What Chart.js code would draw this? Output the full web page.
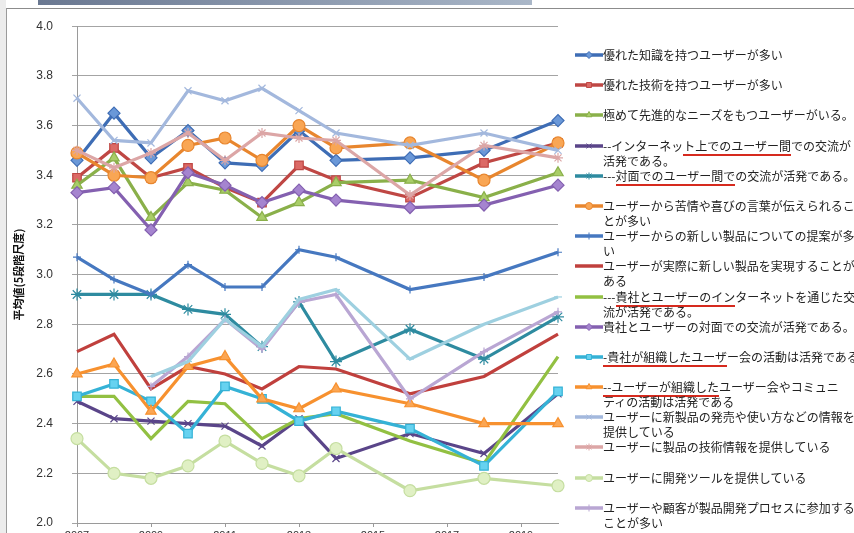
<!DOCTYPE html>
<html>
<head>
<meta charset="utf-8">
<script src="https://cdn.jsdelivr.net/npm/chart.js@4"></script>
<style>
  html, body { margin: 0; padding: 0; background: #fff; overflow: hidden; }
  #page { position: relative; width: 854px; height: 533px; overflow: hidden; }
  #sidebar { position: absolute; left: 0; top: 0; width: 6px; height: 533px; background: #ececec; }
  #topbar { position: absolute; left: 38px; top: 0; width: 494px; height: 5px;
            background: linear-gradient(to right, #6a7891, #aab7c8); }
  #frame { position: absolute; left: 6px; top: 8px; width: 860px; height: 540px;
           border-top: 1px solid #8c8c8c; border-left: 1px solid #9a9a9a; }
  #wrap { position: absolute; left: 0; top: 0; width: 854px; height: 560px; }
  #legend { position: absolute; left: 575px; top: 47px; font-family: "Noto Sans CJK JP", sans-serif;
            font-size: 12px; color: #222; }
  .item { height: 30.2px; display: flex; align-items: flex-start; white-space: pre; }
  .item canvas { flex: none; }
  .item .txt { line-height: 15px; }
  .mark { border-bottom: 2px solid #d62a1e; }
</style>
</head>
<body>
<div id="page">
  <div id="sidebar"></div>
  <div id="topbar"></div>
  <div id="frame"></div>
  <div id="wrap"><canvas id="chart"></canvas></div>
  <div id="legend"></div>
</div>
<script>
// survey years (x) and the odd-year ticks shown under the axis
const years = [2007, 2008, 2009, 2010, 2011, 2012, 2013, 2014, 2016, 2018, 2020];
const xTicks = [2007, 2009, 2011, 2013, 2015, 2017, 2019];

const labels = [
  '優れた知識を持つユーザーが多い',
  '優れた技術を持つユーザーが多い',
  '極めて先進的なニーズをもつユーザーがいる。',
  '--インターネット上でのユーザー間での交流が\n活発である。',
  '---対面でのユーザー間での交流が活発である。',
  'ユーザーから苦情や喜びの言葉が伝えられるこ\nとが多い',
  'ユーザーからの新しい製品についての提案が多\nい',
  'ユーザーが実際に新しい製品を実現することが\nある',
  '---貴社とユーザーのインターネットを通じた交\n流が活発である。',
  '貴社とユーザーの対面での交流が活発である。',
  '-貴社が組織したユーザー会の活動は活発である',
  '--ユーザーが組織したユーザー会やコミュニ\nティの活動は活発である',
  'ユーザーに新製品の発売や使い方などの情報を\n提供している',
  'ユーザーに製品の技術情報を提供している',
  'ユーザーに開発ツールを提供している',
  'ユーザーや顧客が製品開発プロセスに参加する\nことが多い',
  ''
];

// parts of the legend text underlined in red in the original
const underlines = { 3: 'ト上でのユーザー間', 4: '対面でのユーザー間で', 8: '貴社とユーザーのイン',
                     10: '-貴社が組織したユーザ', 11: '--ユーザーが組織した' };

const s1  = [3.46, 3.65, 3.47, 3.58, 3.45, 3.44, 3.58, 3.46, 3.47, 3.50, 3.62];
const s2  = [3.39, 3.51, 3.39, 3.43, 3.35, 3.29, 3.44, 3.38, 3.31, 3.45, 3.53];
const s3  = [3.36, 3.47, 3.23, 3.37, 3.34, 3.23, 3.29, 3.37, 3.38, 3.31, 3.41];
const s4  = [2.49, 2.42, 2.41, 2.40, 2.39, 2.31, 2.42, 2.26, 2.36, 2.28, 2.52];
const s5  = [2.92, 2.92, 2.92, 2.86, 2.84, 2.71, 2.89, 2.65, 2.78, 2.66, 2.83];
const s6  = [3.49, 3.40, 3.39, 3.52, 3.55, 3.46, 3.60, 3.51, 3.53, 3.38, 3.53];
const s7  = [3.07, 2.98, 2.92, 3.04, 2.95, 2.95, 3.10, 3.07, 2.94, 2.99, 3.09];
const s8  = [2.69, 2.76, 2.54, 2.63, 2.60, 2.54, 2.63, 2.62, 2.52, 2.59, 2.76];
const s9  = [2.51, 2.51, 2.34, 2.49, 2.48, 2.34, 2.42, 2.44, 2.33, 2.24, 2.67];
const s10 = [3.33, 3.35, 3.18, 3.41, 3.36, 3.29, 3.34, 3.30, 3.27, 3.28, 3.36];
const s11 = [2.51, 2.56, 2.49, 2.36, 2.55, 2.50, 2.41, 2.45, 2.38, 2.23, 2.53];
const s12 = [2.60, 2.64, 2.45, 2.63, 2.67, 2.50, 2.46, 2.54, 2.48, 2.40, 2.40];
const s13 = [3.71, 3.54, 3.53, 3.74, 3.70, 3.75, 3.66, 3.57, 3.52, 3.57, 3.50];
const s14 = [3.50, 3.43, 3.49, 3.57, 3.46, 3.57, 3.55, 3.54, 3.32, 3.52, 3.47];
const s15 = [2.34, 2.20, 2.18, 2.23, 2.33, 2.24, 2.19, 2.30, 2.13, 2.18, 2.15];
const s16 = [null, null, 2.55, 2.67, 2.82, 2.70, 2.89, 2.92, 2.50, 2.69, 2.85];
const s17 = [null, null, 2.59, 2.65, 2.82, 2.71, 2.90, 2.94, 2.66, 2.80, 2.91];

const series = [s1, s2, s3, s4, s5, s6, s7, s8, s9, s10, s11, s12, s13, s14, s15, s16, s17];

// line colour, marker fill, marker style, marker radius
const styles = [
  ['#3e6db5', '#6a98d8', 'rectRot', 6],
  ['#bf4744', '#dc6a66', 'rect', 6],
  ['#8ab04a', '#a9cd68', 'triangle', 6],
  ['#5a4589', '#5a4589', 'crossRot', 5],
  ['#2e8ba0', '#2e8ba0', 'star', 6],
  ['#e8862e', '#f9a654', 'circle', 6],
  ['#4678c0', '#4678c0', 'cross', 4],
  ['#c0403d', '#c0403d', 'circle', 0],
  ['#92c042', '#92c042', 'circle', 0],
  ['#8460b0', '#a584cf', 'rectRot', 6],
  ['#35b2d6', '#66d2f0', 'rect', 6],
  ['#f7912f', '#fba653', 'triangle', 6],
  ['#a3b8dd', '#a3b8dd', 'crossRot', 5],
  ['#dca6a6', '#dca6a6', 'star', 5],
  ['#c5dea0', '#e0f0c4', 'circle', 6],
  ['#b9a6d3', '#b9a6d3', 'cross', 4],
  ['#9ed0e0', '#9ed0e0', 'line', 4]
];

const datasets = series.map((vals, i) => {
  const [color, fill, shape, r] = styles[i];
  return {
    label: labels[i],
    data: years.map((y, k) => ({ x: y, y: vals[k] })),
    borderColor: color,
    backgroundColor: fill,
    pointBackgroundColor: fill,
    pointBorderColor: color,
    pointBorderWidth: 1.2,
    pointStyle: shape,
    pointRadius: r,
    borderWidth: 3.2,
    tension: 0,
    clip: false,
    order: series.length - i
  };
});

const chart = new Chart(document.getElementById('chart'), {
  type: 'line',
  data: { datasets: datasets },
  options: {
    responsive: true,
    maintainAspectRatio: false,
    animation: false,
    layout: { padding: { left: 8, top: 20, right: 296, bottom: 0 } },
    plugins: { legend: { display: false }, tooltip: { enabled: false } },
    scales: {
      x: {
        type: 'linear',
        min: 2007,
        max: 2020,
        afterBuildTicks: s => { s.ticks = xTicks.map(v => ({ value: v })); },
        afterFit: s => { s.height = 37; },
        grid: { drawOnChartArea: false, color: '#9a9a9a', tickLength: 4 },
        border: { color: '#9a9a9a' },
        ticks: { padding: 2, color: '#333', font: { family: 'Liberation Sans', size: 11 },
                 callback: v => String(v), maxRotation: 0 }
      },
      y: {
        min: 2.0,
        max: 4.0,
        afterFit: s => { s.width = 69; },
        grid: { color: '#a4a4a4', tickLength: 5 },
        border: { color: '#9a9a9a' },
        ticks: { stepSize: 0.2, padding: 19, color: '#333',
                 font: { family: 'Liberation Sans', size: 12 },
                 callback: v => v.toFixed(1) },
        title: { display: true, text: '平均値(5段階尺度)', color: '#111',
                 font: { family: 'Noto Sans CJK JP', size: 11, weight: 'bold' },
                 padding: { top: 4, bottom: 0 } }
      }
    }
  }
});

// legend built from the chart's datasets
const legendBox = document.getElementById('legend');
chart.data.datasets.forEach((ds, i) => {
  if (!ds.label) return;
  const item = document.createElement('div');
  item.className = 'item';
  const icon = document.createElement('canvas');
  icon.width = 28; icon.height = 15;
  const ctx = icon.getContext('2d');
  ctx.strokeStyle = ds.borderColor;
  ctx.lineWidth = 3.5;
  ctx.beginPath(); ctx.moveTo(0, 8); ctx.lineTo(28, 8); ctx.stroke();
  if (ds.pointRadius > 0 && Chart.helpers && Chart.helpers.drawPoint) {
    ctx.fillStyle = ds.pointBackgroundColor;
    ctx.strokeStyle = ds.pointBorderColor;
    ctx.lineWidth = 1;
    Chart.helpers.drawPoint(ctx, { pointStyle: ds.pointStyle, radius: 3.5, rotation: 0, borderWidth: 1 }, 14, 8);
  }
  item.appendChild(icon);
  const txt = document.createElement('div');
  txt.className = 'txt';
  const key = underlines[i];
  if (key && ds.label.indexOf(key) >= 0) {
    const p = ds.label.indexOf(key);
    txt.appendChild(document.createTextNode(ds.label.slice(0, p)));
    const sp = document.createElement('span');
    sp.className = 'mark';
    sp.textContent = key;
    txt.appendChild(sp);
    txt.appendChild(document.createTextNode(ds.label.slice(p + key.length)));
  } else {
    txt.textContent = ds.label;
  }
  item.appendChild(txt);
  legendBox.appendChild(item);
});
</script>
</body>
</html>
